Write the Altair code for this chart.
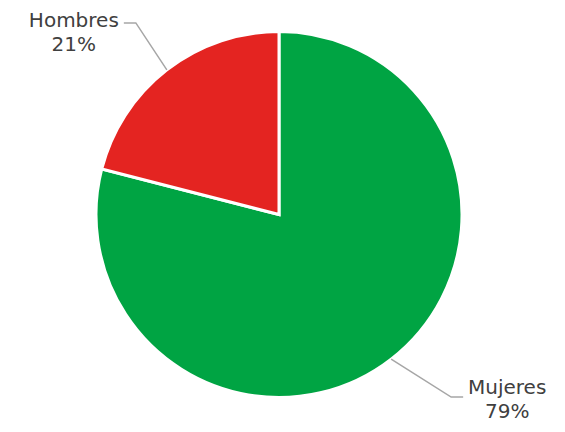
import altair as alt
import pandas as pd
import numpy as np

categories = ["Mujeres", "Hombres"]
values = [79, 21]
colors = ["#00A443", "#E42421"]

# layout / style (pixels)
W, H = 542, 416          # plot area
CX, CY = 271, 206.5      # pie centre inside plot area
R = 183                  # pie radius
# elbow offset of each leader line from its slice-edge point, tail length,
# and label offset from the tail end
ELBOW = {"Mujeres": (60, 38), "Hombres": (-31, -47)}
TAIL = 12
LABEL_DX = {"Mujeres": 44, "Hombres": -50}
LABEL_DY = {"Mujeres": -3.5, "Hombres": 4}

df = pd.DataFrame({"cat": categories, "val": values,
                   "order": list(range(len(categories))), "c0": 0.0})

total = sum(values)
cum = np.cumsum([0] + values[:-1])
rows, labels = [], []
for c, v, s in zip(categories, values, cum):
    mid = (s + v / 2) / total * 2 * np.pi
    sx, sy = np.sin(mid), -np.cos(mid)
    side = 1 if sx >= 0 else -1
    p0 = (R * sx, R * sy)
    p1 = (p0[0] + ELBOW[c][0], p0[1] + ELBOW[c][1])
    p2 = (p1[0] + side * TAIL, p1[1])
    for i, p in enumerate([p0, p1, p2]):
        rows.append({"cat": c, "order": i, "x": p[0], "y": p[1]})
    labels.append({"cat": c, "x": p2[0] + LABEL_DX[c], "y": p2[1] + LABEL_DY[c],
                   "text": [c, f"{v}%"]})
lines = pd.DataFrame(rows)
labs = pd.DataFrame(labels)

xs = alt.Scale(domain=[-CX, W - CX], range=[0, W])
ys = alt.Scale(domain=[-CY, H - CY], range=[0, H])

pie = alt.Chart(df).mark_arc(radius=R, stroke="white", strokeWidth=3).encode(
    x=alt.X("c0:Q", scale=xs, axis=None),
    y=alt.Y("c0:Q", scale=ys, axis=None),
    theta=alt.Theta("val:Q", stack=True),
    color=alt.Color("cat:N", scale=alt.Scale(domain=categories, range=colors), legend=None),
    order=alt.Order("order:Q"),
)

lead = alt.Chart(lines).mark_line(color="#A6A6A6", strokeWidth=1.5).encode(
    x=alt.X("x:Q", scale=xs, axis=None),
    y=alt.Y("y:Q", scale=ys, axis=None),
    detail="cat:N",
    order="order:Q",
)

txt = alt.Chart(labs).mark_text(font="DejaVu Sans", fontSize=20, color="#404040",
                                align="center", baseline="alphabetic", lineHeight=24.5).encode(
    x=alt.X("x:Q", scale=xs, axis=None),
    y=alt.Y("y:Q", scale=ys, axis=None),
    text="text",
)

chart = alt.layer(pie, lead, txt).properties(
    width=W, height=H, padding=0, autosize=alt.AutoSizeParams(type="none")
).configure_view(stroke=None)

chart.save("out.html", embed_options={"renderer": "svg", "actions": False})
